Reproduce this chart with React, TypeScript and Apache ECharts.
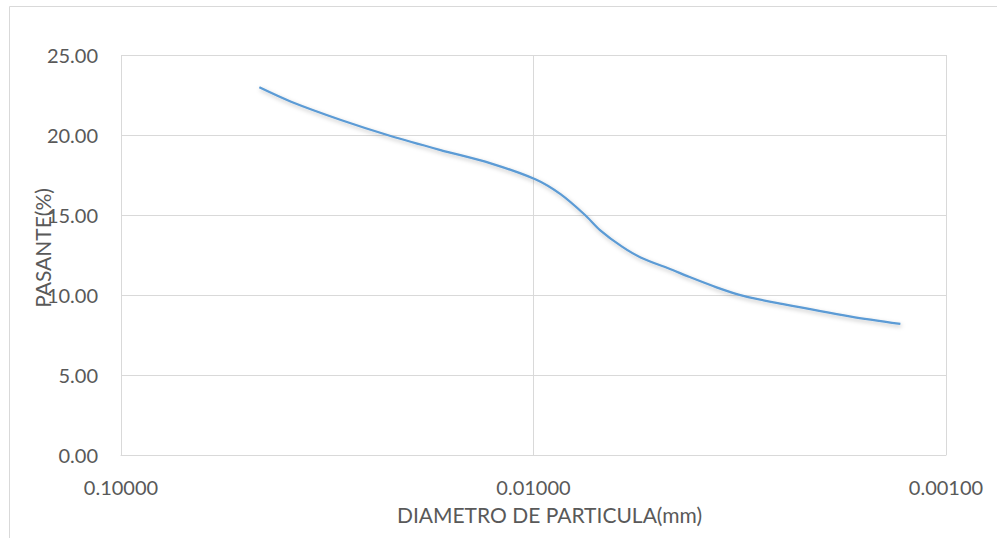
import React, { useEffect, useRef } from "react";
import * as echarts from "echarts";

const diametro: number[] = [0.0462, 0.0387, 0.0293, 0.0222, 0.0168, 0.0127, 0.0099, 0.0086, 0.0075, 0.0069, 0.0061, 0.0055, 0.0046, 0.0042, 0.0036, 0.0031, 0.0025, 0.0017, 0.00129];
const pasante: number[] = [22.98, 22.08, 20.94, 19.94, 19.06, 18.23, 17.23, 16.3, 15.0, 14.06, 13.02, 12.35, 11.56, 11.14, 10.48, 9.94, 9.44, 8.65, 8.19];

const xTitle = "DIAMETRO DE PARTICULA(mm)";
const yTitle = "PASANTE(%)";

const FONT = "Lato";
const TEXT = "#595959";
const GRID = "#d9d9d9";

export default function App() {
  const ref = useRef<HTMLDivElement>(null);
  useEffect(() => {
    if (!ref.current) return;
    const chart = echarts.init(ref.current, null, { renderer: "svg" });
    const data = diametro.map((d, i) => [d, pasante[i]]);
    chart.setOption({
      animation: false,
      backgroundColor: "#ffffff",
      graphic: [
        {
          type: "rect",
          shape: { x: 9.5, y: 6.5, width: 1100, height: 700 },
          style: { fill: "none", stroke: GRID, lineWidth: 1 },
          silent: true,
          z: -1,
        },
      ],
      grid: { left: 121, right: 51, top: 55, bottom: 83 },
      xAxis: {
        type: "log",
        logBase: 10,
        min: 0.001,
        max: 0.1,
        inverse: true,
        name: xTitle,
        nameLocation: "middle",
        nameGap: 49,
        nameMoveOverlap: false,
        nameTextStyle: { color: TEXT, fontFamily: FONT, fontSize: 21, padding: [0, 0, 0, 32] },
        axisLine: { show: true, lineStyle: { color: GRID, width: 1 } },
        axisTick: { show: false },
        axisLabel: {
          color: TEXT,
          fontFamily: FONT,
          fontSize: 20,
          margin: 22,
          formatter: (v: number) => v.toFixed(5),
        },
        splitLine: { show: true, lineStyle: { color: GRID, width: 1 } },
        minorTick: { show: false },
        minorSplitLine: { show: false },
      },
      yAxis: {
        type: "value",
        min: 0,
        max: 25,
        interval: 5,
        name: yTitle,
        nameLocation: "middle",
        nameGap: 68,
        nameRotate: 90,
        nameMoveOverlap: false,
        nameTextStyle: { color: TEXT, fontFamily: FONT, fontSize: 21, padding: [0, 0, 0, 14] },
        axisLine: { show: false },
        axisTick: { show: false },
        axisLabel: {
          color: TEXT,
          fontFamily: FONT,
          fontSize: 20,
          margin: 23,
          formatter: (v: number) => v.toFixed(2),
        },
        splitLine: { show: true, lineStyle: { color: GRID, width: 1 } },
      },
      series: [
        {
          type: "line",
          data,
          smooth: 0.3,
          showSymbol: false,
          symbol: "none",
          lineStyle: {
            color: "#5b9bd5",
            width: 2.25,
            shadowColor: "rgba(0,0,0,0.25)",
            shadowBlur: 4,
            shadowOffsetY: 2,
            shadowOffsetX: 1,
          },
        },
      ],
    });
    return () => chart.dispose();
  }, []);
  return (
    <div
      ref={ref}
      style={{ position: "fixed", left: 0, top: 0, width: 997, height: 538 }}
    />
  );
}
